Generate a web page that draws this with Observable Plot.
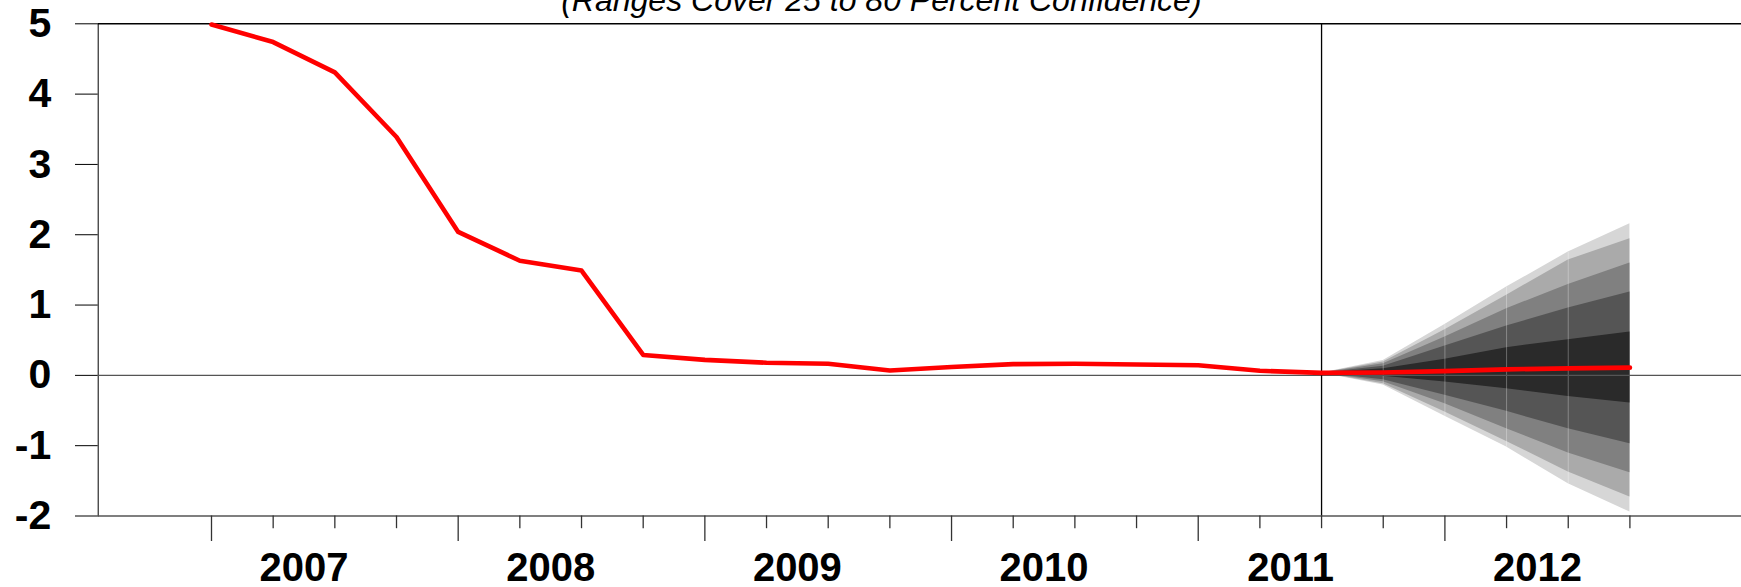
<!DOCTYPE html>
<html>
<head>
<meta charset="utf-8">
<script src="https://cdn.jsdelivr.net/npm/d3@7"></script>
<script src="https://cdn.jsdelivr.net/npm/@observablehq/plot@0.6"></script>
<style>
  html, body { margin: 0; padding: 0; background: #fff; }
  #chart svg { display: block; }
</style>
</head>
<body>
<div id="chart"></div>
<script>
// ---- Data ----
const titleText = "(Ranges Cover 25 to 80 Percent Confidence)";

const quarters = [
  "2007Q1","2007Q2","2007Q3","2007Q4",
  "2008Q1","2008Q2","2008Q3","2008Q4",
  "2009Q1","2009Q2","2009Q3","2009Q4",
  "2010Q1","2010Q2","2010Q3","2010Q4",
  "2011Q1","2011Q2","2011Q3","2011Q4",
  "2012Q1","2012Q2","2012Q3","2012Q4"
];

// red line (history + median projection)
const rate = [
  4.99, 4.74, 4.31, 3.39,
  2.04, 1.63, 1.49, 0.29,
  0.22, 0.18, 0.165, 0.07,
  0.12, 0.16, 0.165, 0.155,
  0.145, 0.065, 0.035, 0.04,
  0.06, 0.085, 0.10, 0.11
];

const forecastStart = "2011Q3";

// fan chart bands (2011Q3 .. 2012Q4)
const fanQuarters = ["2011Q3","2011Q4","2012Q1","2012Q2","2012Q3","2012Q4"];
const band80Hi = [0.035, 0.21, 0.725, 1.256, 1.754, 2.157];
const band70Hi = [0.035, 0.19, 0.65, 1.14, 1.64, 1.944];
const band55Hi = [0.035, 0.166, 0.545, 0.948, 1.294, 1.598];
const band40Hi = [0.035, 0.128, 0.417, 0.702, 0.958, 1.185];
const band25Hi = [0.035, 0.095, 0.228, 0.394, 0.507, 0.616];
const band25Lo = [0.035, -0.014, -0.095, -0.19, -0.299, -0.394];
const band40Lo = [0.035, -0.062, -0.284, -0.512, -0.759, -0.972];
const band55Lo = [0.035, -0.09, -0.403, -0.759, -1.105, -1.385];
const band70Lo = [0.035, -0.119, -0.522, -0.939, -1.375, -1.731];
const band80Lo = [0.035, -0.137, -0.583, -1.02, -1.541, -1.944];
const bandColors = ["#d6d6d6", "#aaaaaa", "#808080", "#555555", "#2a2a2a"];

const years = ["2007","2008","2009","2010","2011","2012"];
const yTicks = [5, 4, 3, 2, 1, 0, -1, -2];

// ---- Build tables ----
const qi = q => quarters.indexOf(q);
const lineData = quarters.map((q, i) => ({i, v: rate[i]}));
const bandPairs = [
  [band80Lo, band80Hi], [band70Lo, band70Hi], [band55Lo, band55Hi],
  [band40Lo, band40Hi], [band25Lo, band25Hi]
];
const bands = bandPairs.map(([lo, hi], k) =>
  fanQuarters.map((q, j) => ({i: qi(q), lo: lo[j], hi: hi[j], k}))
);
const seams = fanQuarters.slice(1, -1).map((q, j) => ({i: qi(q), lo: band80Lo[j + 1], hi: band80Hi[j + 1]}));
const tickData = quarters.map((q, i) => ({i, major: q.endsWith("Q1")}));
const yearData = years.map(y => ({y, x: qi(y + "Q2") + 0.5}));

// ---- Layout ----
const W = 1741, H = 587;
const mL = 97.7, mR = 0, mT = 23.3, mB = 71.5;
const pxPerUnitY = (H - mT - mB) / 7;
const shortTick = 12.7 / pxPerUnitY, longTick = 25.5 / pxPerUnitY;

const font = "'Liberation Sans', Arial, Helvetica, sans-serif";

const marks = [];
bands.forEach((b, k) => {
  marks.push(Plot.areaY(b, {x: "i", y1: "lo", y2: "hi", fill: bandColors[k]}));
});
marks.push(Plot.ruleX(seams, {x: "i", y1: "lo", y2: "hi", stroke: "#ffffff", strokeOpacity: 0.3, strokeWidth: 1}));
marks.push(Plot.ruleY([0], {stroke: "#555", strokeWidth: 1.4}));
marks.push(Plot.ruleY([-2], {stroke: "#555", strokeWidth: 1.4}));
marks.push(Plot.ruleY([5], {stroke: "#000", strokeWidth: 1.4}));
marks.push(Plot.ruleX([qi(forecastStart)], {stroke: "#000", strokeWidth: 1.3}));
marks.push(Plot.ruleX(tickData, {x: "i", y1: -2, y2: d => -2 - (d.major ? longTick : shortTick), stroke: "#333", strokeWidth: 1.3}));
marks.push(Plot.line(lineData, {x: "i", y: "v", stroke: "#ff0000", strokeWidth: 4.6}));
marks.push(Plot.text(yearData, {x: "x", text: "y", frameAnchor: "bottom", lineAnchor: "bottom", dy: 64.5,
  fontSize: 40, fontWeight: "bold", fill: "#000"}));
marks.push(Plot.text([titleText], {text: d => d, frameAnchor: "top", lineAnchor: "bottom", dy: -12.8, dx: -38.5,
  fontSize: 32, fontStyle: "italic", fontWeight: "normal", fill: "#000"}));

const xLeft = -(211 - mL) / 61.67;
const xRight = (W - 211) / 61.67;

const chart = Plot.plot({
  width: W,
  height: H,
  marginLeft: mL,
  marginRight: mR,
  marginTop: mT,
  marginBottom: mB,
  style: {fontFamily: font, fontSize: "41px", fontWeight: "bold", color: "#000", background: "#fff", overflow: "visible"},
  x: {domain: [xLeft, xRight], axis: null},
  y: {domain: [-2, 5], ticks: yTicks, tickSize: 22.7, tickPadding: 24.3, tickFormat: d => String(d), line: true, label: null},
  marks
});
document.getElementById("chart").appendChild(chart);
</script>
</body>
</html>
